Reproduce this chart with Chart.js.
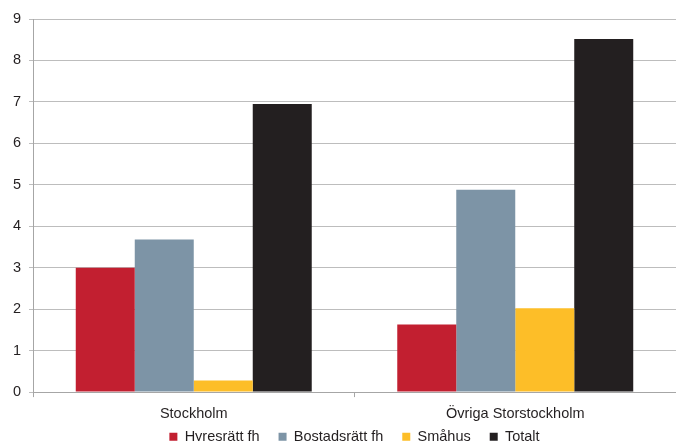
<!DOCTYPE html>
<html>
<head>
<meta charset="utf-8">
<script src="https://cdn.jsdelivr.net/npm/chart.js@4"></script>
<style>
  html, body { margin: 0; padding: 0; background: #fff; }
  #wrap { width: 676px; height: 441px; }
</style>
</head>
<body>
<div id="wrap"><canvas id="chart" width="676" height="441"></canvas></div>
<script>
// Regions and housing types
var regions = ['Stockholm', 'Övriga Storstockholm'];
var hyresratt = [3.0, 1.63];
var bostadsratt = [3.68, 4.88];
var smahus = [0.28, 2.02];
var totalt = [6.95, 8.52];
var yTicks = [0, 1, 2, 3, 4, 5, 6, 7, 8, 9];

Chart.defaults.font.family = '"Liberation Sans", Arial, sans-serif';
Chart.defaults.font.size = 14.5;
Chart.defaults.color = '#231f20';

function series(label, data, color) {
    return {
        label: label,
        data: data,
        backgroundColor: color,
        borderWidth: 0,
        categoryPercentage: 0.734,
        barPercentage: 1.0
    };
}

// pull the legend up a bit so it sits close under the region labels
var legendNudge = {
    id: 'legendNudge',
    afterLayout: function (chart) {
        var lg = chart.legend;
        if (!lg) return;
        lg.top -= 20;
        lg.bottom -= 20;
    }
};

var ctx = document.getElementById('chart').getContext('2d');
new Chart(ctx, {
    type: 'bar',
    data: {
        labels: regions,
        datasets: [
            series('Hyresrätt fh', hyresratt, '#c21f30'),
            series('Bostadsrätt fh', bostadsratt, '#7d94a6'),
            series('Småhus', smahus, '#fdbe28'),
            series('Totalt', totalt, '#231f20')
        ]
    },
    plugins: [legendNudge],
    options: {
        responsive: false,
        animation: false,
        layout: { padding: { top: 19, right: -2, bottom: -33, left: 0 } },
        plugins: {
            tooltip: { enabled: false },
            legend: {
                position: 'bottom',
                fullSize: false,
                labels: {
                    boxWidth: 8,
                    boxHeight: 8,
                    padding: 19,
                    color: '#231f20'
                }
            }
        },
        scales: {
            x: {
                grid: {
                    offset: true,
                    drawOnChartArea: false,
                    tickLength: 5,
                    color: '#a6a6a6'
                },
                border: { color: '#a6a6a6' },
                ticks: { padding: 8 }
            },
            y: {
                min: 0,
                max: 9,
                afterBuildTicks: function (scale) {
                    scale.ticks = yTicks.map(function (v) { return { value: v }; });
                },
                afterFit: function (scale) { scale.width = 33; },
                grid: {
                    color: '#bdbdbd',
                    tickLength: 4
                },
                border: { color: '#a6a6a6' },
                ticks: { padding: 8 }
            }
        }
    }
});
</script>
</body>
</html>
